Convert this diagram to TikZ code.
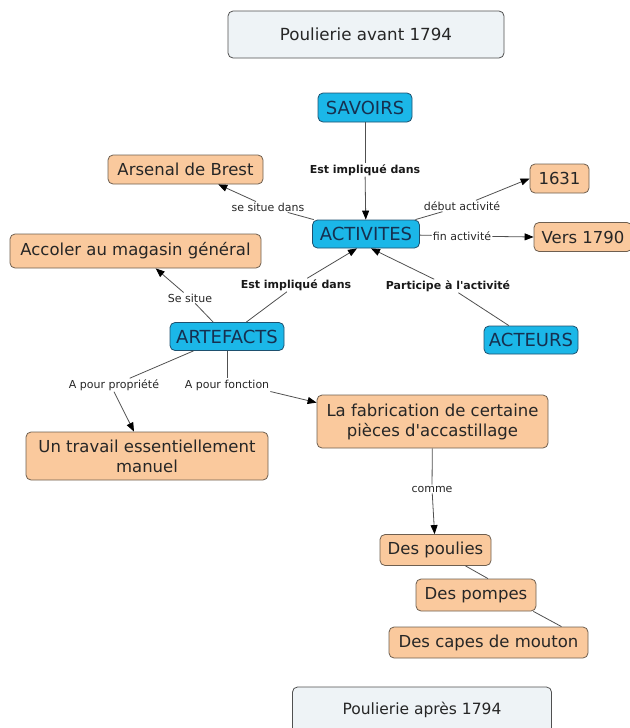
\documentclass[tikz,border=0pt]{standalone}
\usepackage{fontspec}
\setmainfont{DejaVu Sans}
\usetikzlibrary{arrows.meta,calc}
\definecolor{peach}{RGB}{250,201,157}
\definecolor{cyanfill}{RGB}{27,183,232}
\definecolor{titlefill}{RGB}{238,243,246}
\definecolor{navy}{RGB}{22,48,80}
\definecolor{linegray}{RGB}{80,80,80}
\definecolor{brownborder}{RGB}{110,95,80}
\definecolor{blueborder}{RGB}{30,80,110}
\begin{document}
\begin{tikzpicture}[x=1pt,y=-1pt,
  box/.style={rounded corners=5pt, line width=0.8pt, inner sep=2pt,
    font=\fontsize{16.5}{20}\selectfont, align=center},
  orangebox/.style={box, draw=brownborder, fill=peach, text=black!85},
  cyanbox/.style={box, draw=blueborder, fill=cyanfill, text=navy,
    font=\fontsize{18}{20}\selectfont},
  titlebox/.style={box, draw=linegray, fill=titlefill, text=black!85},
  lbl/.style={font=\fontsize{11}{13}\selectfont, inner sep=1pt, text=black!85},
  blbl/.style={font=\fontsize{11}{13}\selectfont\bfseries, inner sep=1pt, text=black!90},
  conn/.style={draw=linegray, line width=0.8pt},
  arr/.style={conn, -{Triangle[length=9pt,width=7pt,color=black]}}
]
\useasboundingbox (0,0) rectangle (629,728);

% concept nodes
\node[titlebox, minimum width=276pt, minimum height=47pt, font=\fontsize{16.7}{20}\selectfont] (title) at (366,34.5) {Poulierie avant 1794};
\node[cyanbox, minimum width=94pt, minimum height=29pt] (savoirs) at (365,107.5) {SAVOIRS};
\node[orangebox, minimum width=155pt, minimum height=29pt] (arsenal) at (185.5,169.5) {Arsenal de Brest};
\node[orangebox, minimum width=59pt, minimum height=29pt] (n1631) at (559.5,178.5) {1631};
\node[cyanbox, minimum width=107pt, minimum height=28pt] (activ) at (366,234) {ACTIVITES};
\node[orangebox, minimum width=98pt, minimum height=29pt] (vers) at (583,237) {Vers 1790};
\node[orangebox, minimum width=251pt, minimum height=34pt] (accoler) at (135.5,251) {Accoler au magasin général};
\node[cyanbox, minimum width=114pt, minimum height=28pt] (artefacts) at (227,336.5) {ARTEFACTS};
\node[cyanbox, minimum width=94pt, minimum height=28pt] (acteurs) at (531,340) {ACTEURS};
\node[orangebox, minimum width=231pt, minimum height=53pt] (fabr) at (432.5,421.5) {La fabrication de certaine\\pièces d\textquotesingle accastillage};
\node[orangebox, minimum width=242pt, minimum height=48pt] (travail) at (147,456) {Un travail essentiellement\\manuel};
\node[orangebox, minimum width=111pt, minimum height=31pt] (poulies) at (435.5,550) {Des poulies};
\node[orangebox, minimum width=120pt, minimum height=32pt] (pompes) at (476,595) {Des pompes};
\node[orangebox, minimum width=199pt, minimum height=31pt] (capes) at (488.5,642.5) {Des capes de mouton};
\node[titlebox, minimum width=259pt, minimum height=46pt, font=\fontsize{15.5}{18}\selectfont] (apres) at (422,710) {Poulierie après 1794};

% linking phrases
\node[blbl] (l1) at (365,170) {Est impliqué dans};
\node[lbl] (l2) at (268,207) {se situe dans};
\node[lbl] (l3) at (462,206) {début activité};
\node[lbl] (l4) at (462,236) {fin activité};
\node[blbl] (l5) at (296,285) {Est impliqué dans};
\node[blbl] (l6) at (448,286) {Participe à l\textquotesingle activité};
\node[lbl] (l7) at (190,298) {Se situe};
\node[lbl] (l8) at (114,385) {A pour propriété};
\node[lbl] (l9) at (227,385) {A pour fonction};
\node[lbl] (l10) at (432,489) {comme};

\coordinate (actA) at ($(activ.south)+(-9,0)$);
\coordinate (actB) at ($(activ.south)+(5,0)$);
\coordinate (travA) at ($(travail.north)+(-13,0)$);
\coordinate (fabrA) at ($(fabr.north west)+(0,8)$);
\coordinate (poulA) at ($(poulies.south)+(30,0)$);
\coordinate (pompA) at ($(pompes.north)+(12,0)$);
\coordinate (pompB) at ($(pompes.south east)+(-3,0)$);
\coordinate (capA) at ($(capes.north)+(73,0)$);

% connectors
\draw[conn] (savoirs) -- (l1);
\draw[arr] (l1) -- (activ);
\draw[conn] (activ) -- (l2);
\draw[arr] (l2) -- (arsenal);
\draw[conn] (activ) -- (l3);
\draw[arr] (l3) -- (n1631.west);
\draw[conn] (activ) -- (l4);
\draw[arr] (l4) -- (vers.west);
\draw[conn] (artefacts) -- (l5);
\draw[arr] (l5) -- (actA);
\draw[conn] (acteurs) -- (l6);
\draw[arr] (l6) -- (actB);
\draw[conn] (artefacts) -- (l7);
\draw[arr] (l7) -- (accoler);
\draw[conn] (artefacts) -- (l8);
\draw[arr] (l8.south) -- (travA);
\draw[conn] (artefacts) -- (l9);
\draw[arr] (l9.south east) -- (fabrA);
\draw[conn] (fabr) -- (l10);
\draw[arr] (l10) -- (poulies);
\draw[conn] (poulA) -- (pompA);
\draw[conn] (pompB) -- (capA);
\end{tikzpicture}
\end{document}
